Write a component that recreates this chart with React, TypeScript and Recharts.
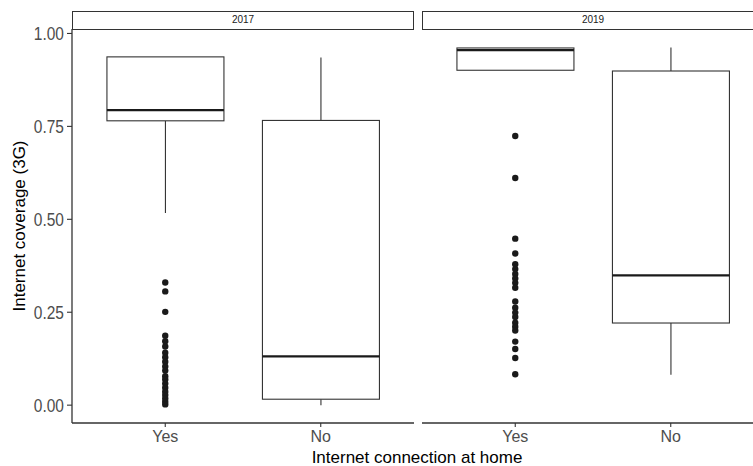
import React from "react";
import {
  ComposedChart,
  Bar,
  Scatter,
  XAxis,
  YAxis,
} from "recharts";

const categories = ["Yes", "No"];
const years = ["2017", "2019"];

// box stats per category (Yes, No)
const lower2017 = [0.517, 0.0];
const q1_2017 = [0.765, 0.016];
const median2017 = [0.794, 0.131];
const q3_2017 = [0.937, 0.766];
const upper2017 = [0.937, 0.935];

const lower2019 = [0.901, 0.082];
const q1_2019 = [0.901, 0.221];
const median2019 = [0.955, 0.349];
const q3_2019 = [0.961, 0.899];
const upper2019 = [0.961, 0.962];

// outliers (only the "Yes" group has any)
const outliers2017Yes = [
  0.33, 0.306, 0.251, 0.187, 0.172, 0.158, 0.141, 0.129, 0.117, 0.104, 0.093,
  0.078, 0.069, 0.058, 0.047, 0.036, 0.027, 0.018, 0.009, 0.002,
];
const outliers2019Yes = [
  0.724, 0.611, 0.448, 0.408, 0.379, 0.366, 0.353, 0.341, 0.329, 0.316, 0.279,
  0.262, 0.249, 0.237, 0.222, 0.211, 0.201, 0.171, 0.151, 0.127, 0.083,
];

const yTicks = [0, 0.25, 0.5, 0.75, 1];
const yDomain: [number, number] = [-0.048, 1.012];

const FONT = '"Liberation Sans", Arial, Helvetica, sans-serif';
const LINE = "#333333";
const TICK_TXT = "#4d4d4d";

const buildBoxes = (
  lower: number[],
  q1: number[],
  median: number[],
  q3: number[],
  upper: number[]
) =>
  categories.map((cat, i) => ({
    cat,
    lower: lower[i],
    q1: q1[i],
    median: median[i],
    q3: q3[i],
    upper: upper[i],
  }));

const panels = [
  {
    year: years[0],
    boxes: buildBoxes(lower2017, q1_2017, median2017, q3_2017, upper2017),
    outliers: outliers2017Yes.map((v) => ({ cat: "Yes", v })),
  },
  {
    year: years[1],
    boxes: buildBoxes(lower2019, q1_2019, median2019, q3_2019, upper2019),
    outliers: outliers2019Yes.map((v) => ({ cat: "Yes", v })),
  },
];

// draws box + whiskers + median from the [q1, q3] bar the library lays out
const BoxShape = (props: any) => {
  const { x, y, width, height, payload } = props;
  const top = Math.min(y, y + height);
  const h = Math.abs(height);
  const span = payload.q3 - payload.q1 || 1;
  const toY = (v: number) => top + ((payload.q3 - v) / span) * h;
  const cx = x + width / 2;
  const my = toY(payload.median);
  return (
    <g>
      <line x1={cx} x2={cx} y1={toY(payload.upper)} y2={top} stroke={LINE} strokeWidth={1.1} />
      <line x1={cx} x2={cx} y1={top + h} y2={toY(payload.lower)} stroke={LINE} strokeWidth={1.1} />
      <rect x={x} y={top} width={width} height={h} fill="#fff" stroke={LINE} strokeWidth={1.1} />
      <line x1={x} x2={x + width} y1={my} y2={my} stroke="#1a1a1a" strokeWidth={2.2} />
    </g>
  );
};

const Dot = (props: any) => {
  const { cx, cy } = props;
  return <circle cx={cx} cy={cy} r={3.2} fill="#1a1a1a" />;
};

// y tick text is a little taller than it is wide in the original
const YTick = (props: any) => {
  const { x, y, payload } = props;
  return (
    <text
      transform={`translate(${x},${y}) scale(1,1.2)`}
      textAnchor="end"
      dy="0.36em"
      fill={TICK_TXT}
      fontSize={15.5}
      fontFamily={FONT}
    >
      {Number(payload.value).toFixed(2)}
    </text>
  );
};

const PANEL_W = 342;
const CHART_H = 466;
const PLOT_TOP = 29;

function Panel({ idx, left }: { idx: number; left: number }) {
  const p = panels[idx];
  const showY = idx === 0;
  const yAxisW = showY ? 72 : 0;
  return (
    <div style={{ position: "absolute", left: left - yAxisW, top: 0 }}>
      <div
        style={{
          position: "absolute",
          left: yAxisW,
          top: 11,
          width: PANEL_W,
          height: 19,
          boxSizing: "border-box",
          border: `1.5px solid ${LINE}`,
          background: "#fff",
          fontSize: 10,
          color: "#1a1a1a",
          textAlign: "center",
          lineHeight: "16px",
          fontFamily: FONT,
        }}
      >
        {p.year}
      </div>
      <ComposedChart
        width={PANEL_W + yAxisW}
        height={CHART_H}
        data={p.boxes}
        margin={{ top: PLOT_TOP, right: 0, bottom: 13, left: 0 }}
        barCategoryGap="12.5%"
      >
        <XAxis
          dataKey="cat"
          type="category"
          allowDuplicatedCategory={false}
          height={30}
          padding={{ left: 15.5, right: 15.5 }}
          tickSize={4}
          tickMargin={4}
          axisLine={{ stroke: LINE, strokeWidth: 1.3 }}
          tickLine={{ stroke: LINE, strokeWidth: 1.1 }}
          tick={{ fill: TICK_TXT, fontSize: 16, fontFamily: FONT }}
        />
        <YAxis
          type="number"
          domain={yDomain}
          ticks={yTicks}
          allowDataOverflow
          hide={!showY}
          width={72}
          tickSize={5}
          tickMargin={3}
          axisLine={{ stroke: LINE, strokeWidth: 1.3 }}
          tickLine={{ stroke: LINE, strokeWidth: 1.1 }}
          tick={<YTick />}
        />
        <Bar
          dataKey={(d: any) => [d.q1, d.q3]}
          shape={<BoxShape />}
          isAnimationActive={false}
        />
        <Scatter
          data={p.outliers}
          dataKey="v"
          shape={<Dot />}
          isAnimationActive={false}
        />
      </ComposedChart>
    </div>
  );
}

export default function App() {
  return (
    <div
      style={{
        position: "absolute",
        left: 0,
        top: 0,
        width: 753,
        height: 466,
        overflow: "hidden",
        background: "#fff",
        fontFamily: FONT,
      }}
    >
      <Panel idx={0} left={72} />
      <Panel idx={1} left={422} />
      <div
        style={{
          position: "absolute",
          left: 20,
          top: 226,
          transform: "translate(-50%, -50%) rotate(-90deg)",
          whiteSpace: "nowrap",
          fontSize: 17,
          lineHeight: "18px",
          color: "#000",
        }}
      >
        Internet coverage (3G)
      </div>
      <div
        style={{
          position: "absolute",
          left: 417,
          top: 457,
          transform: "translate(-50%, -50%)",
          whiteSpace: "nowrap",
          fontSize: 17,
          lineHeight: "17px",
          color: "#000",
        }}
      >
        Internet connection at home
      </div>
    </div>
  );
}
